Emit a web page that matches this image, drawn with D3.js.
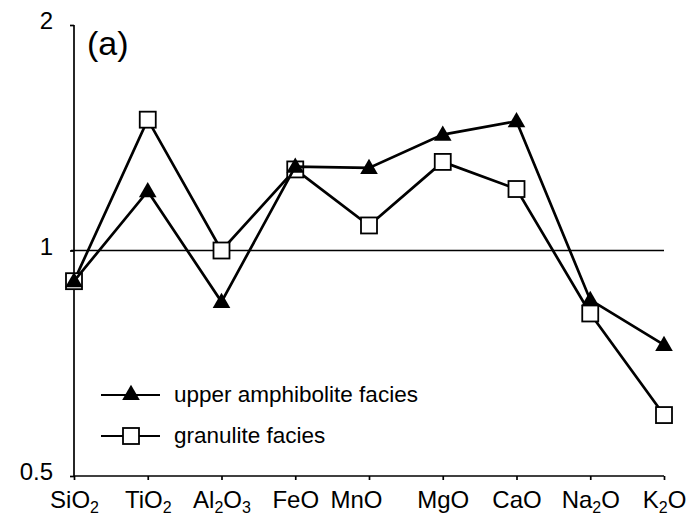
<!DOCTYPE html>
<html>
<head>
<meta charset="utf-8">
<script src="https://cdn.jsdelivr.net/npm/d3@7"></script>
<style>
  html, body { margin: 0; padding: 0; background: #fff; }
  svg { display: block; }
  text { font-family: "Liberation Sans", Arial, sans-serif; fill: #000; }
</style>
</head>
<body>
<svg id="chart" width="691" height="521"></svg>
<script>
// Oxide ratios normalised to 1 (log scale)
const categories = ["SiO2", "TiO2", "Al2O3", "FeO", "MnO", "MgO", "CaO", "Na2O", "K2O"];
const amphibolite = [0.91, 1.20, 0.854, 1.294, 1.289, 1.428, 1.488, 0.859, 0.748];
const granulite   = [0.91, 1.495, 1.00, 1.283, 1.08, 1.313, 1.208, 0.824, 0.603];
const yTicks = [0.5, 1, 2];
const yTickLabels = ["0.5", "1", "2"];
const seriesNames = ["upper amphibolite facies", "granulite facies"];
const panelLabel = "(a)";

const svg = d3.select("#chart");

const x = d3.scalePoint().domain(categories).range([74, 664]);
const y = d3.scaleLog().domain([0.5, 2]).range([476, 25]);

// Writes a formula such as "Al2O3" with subscripted digits
function formula(sel, str) {
  const parts = str.match(/[A-Za-z]+|\d+/g);
  let lowered = false;
  parts.forEach(p => {
    if (/^\d+$/.test(p)) {
      sel.append("tspan").attr("font-size", 16).attr("dy", 5).text(p);
      lowered = true;
    } else {
      sel.append("tspan").attr("dy", lowered ? -5 : 0).text(p);
      lowered = false;
    }
  });
}

// Reference line at ratio 1
svg.append("line")
  .attr("x1", 71).attr("x2", 664)
  .attr("y1", y(1)).attr("y2", y(1))
  .attr("stroke", "#000").attr("stroke-width", 1.7);

// Y axis
const yAxis = svg.append("g").attr("transform", "translate(74,0)")
  .call(d3.axisLeft(y).tickValues(yTicks)
    .tickFormat((d, i) => yTickLabels[i]).tickSize(4).tickPadding(17));
yAxis.select(".domain").attr("stroke", "#000").attr("stroke-width", 1.7)
  .attr("d", `M0,${y(2)}V${y(0.5)}`);
yAxis.selectAll(".tick line").attr("stroke", "#000").attr("stroke-width", 1.7);
yAxis.selectAll(".tick text")
  .attr("font-family", "Liberation Sans, Arial, sans-serif")
  .attr("font-size", 24).attr("dy", "0.32em").attr("y", -4);

// X axis
const xAxis = svg.append("g").attr("transform", `translate(0,${y(0.5)})`)
  .call(d3.axisBottom(x).tickSize(4).tickFormat(""));
xAxis.select(".domain").attr("stroke", "#000").attr("stroke-width", 1.7)
  .attr("d", `M${x(categories[0])},0H${x(categories[categories.length - 1])}`);
xAxis.selectAll(".tick line").attr("stroke", "#000").attr("stroke-width", 1.7);
xAxis.selectAll(".tick").each(function (d) {
  const t = d3.select(this).append("text")
    .attr("text-anchor", "middle")
    .attr("font-size", 24)
    .attr("x", d === "MnO" ? -13 : 0)
    .attr("y", 32);
  formula(t, d);
});

// Line generator
const line = d3.line().x((d, i) => x(categories[i])).y(d => y(d));

const sq = 16;
const tri = d3.symbol().type(d3.symbolTriangle).size(135);

// Granulite facies: open squares
svg.append("path").datum(granulite)
  .attr("d", line).attr("fill", "none")
  .attr("stroke", "#000").attr("stroke-width", 2.7).attr("stroke-linejoin", "miter");
svg.append("g").selectAll("rect").data(granulite).join("rect")
  .attr("x", (d, i) => x(categories[i]) - sq / 2)
  .attr("y", d => y(d) - sq / 2)
  .attr("width", sq).attr("height", sq)
  .attr("fill", "#fff").attr("stroke", "#000").attr("stroke-width", 1.8);

// Upper amphibolite facies: filled triangles
svg.append("path").datum(amphibolite)
  .attr("d", line).attr("fill", "none")
  .attr("stroke", "#000").attr("stroke-width", 2.7).attr("stroke-linejoin", "miter");
svg.append("g").selectAll("path").data(amphibolite).join("path")
  .attr("d", tri)
  .attr("transform", (d, i) => `translate(${x(categories[i])},${y(d) + 1})`)
  .attr("fill", "#000");

// Panel label
svg.append("text").attr("x", 87).attr("y", 55).attr("font-size", 34).text(panelLabel);

// Legend
const legend = svg.append("g");
const rows = [395, 436];
rows.forEach((ry, i) => {
  legend.append("line").attr("x1", 101).attr("x2", 160)
    .attr("y1", ry).attr("y2", ry)
    .attr("stroke", "#000").attr("stroke-width", 2.2);
  if (i === 0) {
    legend.append("path").attr("d", tri)
      .attr("transform", `translate(131,${ry})`).attr("fill", "#000");
  } else {
    legend.append("rect").attr("x", 131 - sq / 2).attr("y", ry - sq / 2)
      .attr("width", sq).attr("height", sq)
      .attr("fill", "#fff").attr("stroke", "#000").attr("stroke-width", 1.8);
  }
  legend.append("text").attr("x", 174).attr("y", ry + 7)
    .attr("font-size", 22.5).text(seriesNames[i]);
});
</script>
</body>
</html>
